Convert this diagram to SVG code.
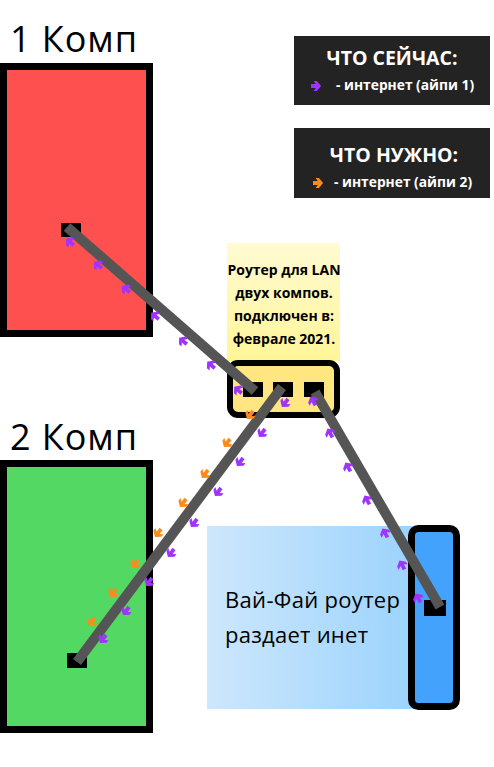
<svg xmlns="http://www.w3.org/2000/svg" xmlns:xlink="http://www.w3.org/1999/xlink" width="494" height="767" viewBox="0 0 494 767">
<defs>
<style>
.lbl{font-family:"Open Sans","Liberation Sans",sans-serif;fill:#000}
.big{font-size:36px}
.note{font-size:14px;font-weight:bold;text-anchor:middle}
.legT{font-family:"Open Sans","Liberation Sans",sans-serif;font-size:19.5px;font-weight:bold;fill:#fff;text-anchor:middle}
.legS{font-family:"Open Sans","Liberation Sans",sans-serif;font-size:13.8px;font-weight:bold;fill:#fff}
.wifi{font-size:22px}
.wire{stroke:#555;stroke-width:10;fill:none}
.port{fill:#000}
.pa{fill:#A033FF}
.oa{fill:#FF8A1C}
</style>
<linearGradient id="gY" x1="0" y1="0" x2="0" y2="1">
<stop offset="0" stop-color="#FFFBD2"/>
<stop offset="1" stop-color="#FFF597"/>
</linearGradient>
<linearGradient id="gB" x1="0" y1="0" x2="1" y2="0">
<stop offset="0" stop-color="#CDE7FC"/>
<stop offset="1" stop-color="#9CD3FC"/>
</linearGradient>
<path id="arr" d="M-5,-1.9 H-0.2 L-2.4,-5.1 H0.9 L5.1,0 L0.9,5.1 H-2.4 L-0.2,1.9 H-5 Z"/>
</defs>
<rect width="494" height="767" fill="#fff"/>

<g id="comp1">
<text class="lbl big" x="10" y="52" textLength="127">1 Комп</text>
<rect x="3.5" y="66.5" width="146" height="267" fill="#FF5050" stroke="#000" stroke-width="7"/>
<rect class="port" x="61" y="223" width="20" height="14"/>
</g>

<g id="comp2">
<text class="lbl big" x="10" y="450" textLength="127">2 Комп</text>
<rect x="3.5" y="463.5" width="146" height="266" fill="#52D863" stroke="#000" stroke-width="7"/>
<rect class="port" x="67" y="653" width="20" height="15"/>
</g>

<g id="legend-now">
<rect x="294" y="36" width="196" height="69" fill="#232323"/>
<text class="legT" x="392" y="65">ЧТО СЕЙЧАС:</text>
<use href="#arr" class="pa" transform="translate(316,86)"/>
<text class="legS" x="336" y="90">- интернет (айпи 1)</text>
</g>

<g id="legend-need">
<rect x="294" y="128" width="196" height="70" fill="#232323"/>
<text class="legT" x="394" y="162">ЧТО НУЖНО:</text>
<use href="#arr" class="oa" transform="translate(318,183)"/>
<text class="legS" x="334" y="187">- интернет (айпи 2)</text>
</g>

<g id="lan-router">
<rect x="227" y="243" width="113" height="118" fill="url(#gY)"/>
<text class="lbl note" x="284" y="275">Роутер для LAN</text>
<text class="lbl note" x="284" y="298">двух компов.</text>
<text class="lbl note" x="284" y="321">подключен в:</text>
<text class="lbl note" x="284" y="344">феврале 2021.</text>
<rect x="230" y="363" width="107" height="52" rx="8" fill="#FFE680" stroke="#000" stroke-width="6"/>
<rect class="port" x="243" y="382" width="20" height="15"/>
<rect class="port" x="273" y="382" width="20" height="15"/>
<rect class="port" x="304" y="382" width="20" height="15"/>
</g>

<g id="wifi-router">
<rect x="207" y="526" width="208" height="183" fill="url(#gB)"/>
<text class="lbl wifi" x="225" y="608" textLength="175">Вай-Фай роутер</text>
<text class="lbl wifi" x="225" y="643" textLength="143">раздает инет</text>
<rect x="411.5" y="528.5" width="45" height="178" rx="7" fill="#42A2FC" stroke="#000" stroke-width="7"/>
<rect class="port" x="424" y="600" width="22" height="16"/>
</g>

<g id="connectors">
<line class="wire" x1="67" y1="227" x2="255" y2="391"/>
<line class="wire" x1="282" y1="387" x2="77" y2="662"/>
<line class="wire" x1="315" y1="392" x2="440" y2="607"/>

<g class="pa">
<use href="#arr" transform="translate(70,242) rotate(221)"/>
<use href="#arr" transform="translate(98,265) rotate(221)"/>
<use href="#arr" transform="translate(126,289) rotate(221)"/>
<use href="#arr" transform="translate(155,316) rotate(221)"/>
<use href="#arr" transform="translate(183,341) rotate(221)"/>
<use href="#arr" transform="translate(211,365) rotate(221)"/>
<use href="#arr" transform="translate(238,390) rotate(221)"/>

<use href="#arr" transform="translate(285,403) rotate(127)"/>
<use href="#arr" transform="translate(262,433) rotate(127)"/>
<use href="#arr" transform="translate(240,462) rotate(127)"/>
<use href="#arr" transform="translate(218,492) rotate(127)"/>
<use href="#arr" transform="translate(194,523) rotate(127)"/>
<use href="#arr" transform="translate(171,553) rotate(127)"/>
<use href="#arr" transform="translate(149,582) rotate(127)"/>
<use href="#arr" transform="translate(126,611) rotate(127)"/>
<use href="#arr" transform="translate(103,639) rotate(127)"/>

<use href="#arr" transform="translate(313,401) rotate(240)"/>
<use href="#arr" transform="translate(330,433) rotate(240)"/>
<use href="#arr" transform="translate(348,467) rotate(240)"/>
<use href="#arr" transform="translate(367,500) rotate(240)"/>
<use href="#arr" transform="translate(385,533) rotate(240)"/>
<use href="#arr" transform="translate(402,565) rotate(240)"/>
<use href="#arr" transform="translate(418,598) rotate(240)"/>
</g>
<g class="oa">
<use href="#arr" transform="translate(250,415) rotate(127)"/>
<use href="#arr" transform="translate(227,443) rotate(127)"/>
<use href="#arr" transform="translate(205,474) rotate(127)"/>
<use href="#arr" transform="translate(183,503) rotate(127)"/>
<use href="#arr" transform="translate(158,533) rotate(127)"/>
<use href="#arr" transform="translate(135,564) rotate(127)"/>
<use href="#arr" transform="translate(113,593) rotate(127)"/>
<use href="#arr" transform="translate(92,622) rotate(127)"/>
</g>
</g>
</svg>
